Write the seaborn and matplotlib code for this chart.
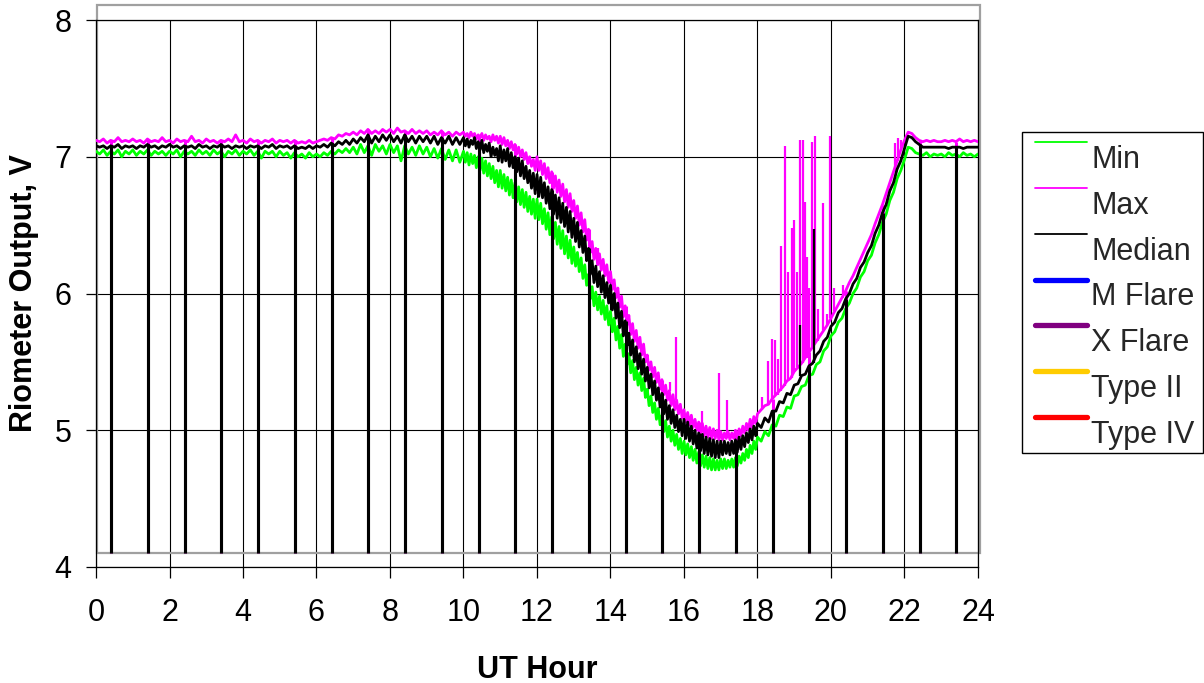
import numpy as np
import pandas as pd
import matplotlib
matplotlib.use("Agg")
import matplotlib.pyplot as plt
import seaborn as sns
from matplotlib.lines import Line2D
from matplotlib.patches import Rectangle
from matplotlib.legend_handler import HandlerLine2D

# ---------------- data ----------------
# sample times (UT hour): 6-min steps, 3-min steps through the noisy 10-18 h stretch
hours = np.concatenate([np.linspace(0, 9.9, 100),
                        np.linspace(10, 17.95, 160),
                        np.linspace(18, 24, 61)])

median_v = [
    7.08, 7.07, 7.08, 7.06, 7.08, 7.07, 7.09, 7.06, 7.08, 7.07,  # 0
    7.08, 7.06, 7.08, 7.07, 7.09, 7.07, 7.08, 7.06, 7.08, 7.07,  # 1
    7.09, 7.07, 7.08, 7.06, 7.08, 7.07, 7.08, 7.06, 7.09, 7.07,  # 2
    7.08, 7.06, 7.08, 7.07, 7.09, 7.07, 7.08, 7.06, 7.08, 7.07,  # 3
    7.08, 7.06, 7.08, 7.07, 7.08, 7.06, 7.08, 7.07, 7.09, 7.06,  # 4
    7.08, 7.07, 7.08, 7.06, 7.08, 7.06, 7.07, 7.06, 7.08, 7.06,  # 5
    7.08, 7.07, 7.09, 7.07, 7.10, 7.08, 7.11, 7.09, 7.12, 7.09,  # 6
    7.13, 7.10, 7.14, 7.11, 7.16, 7.10, 7.15, 7.11, 7.16, 7.12,  # 7
    7.16, 7.11, 7.15, 7.10, 7.16, 7.11, 7.15, 7.10, 7.15, 7.11,  # 8
    7.15, 7.10, 7.15, 7.09, 7.14, 7.10, 7.15, 7.09, 7.14, 7.09,  # 9
    7.14, 7.08, 7.13, 7.07, 7.12, 7.09, 7.14, 7.06, 7.11, 7.05,  # 10.00-10.45
    7.12, 7.03, 7.09, 7.04, 7.10, 7.00, 7.07, 7.01, 7.06, 6.97,  # 10.50-10.95
    7.08, 6.96, 7.05, 6.97, 7.06, 6.93, 7.03, 6.92, 7.00, 6.89,  # 11
    6.99, 6.86, 6.97, 6.84, 6.93, 6.81, 6.90, 6.77, 6.88, 6.73,
    6.87, 6.71, 6.85, 6.70, 6.81, 6.66, 6.78, 6.62, 6.76, 6.58,  # 12
    6.72, 6.55, 6.70, 6.52, 6.66, 6.49, 6.63, 6.45, 6.60, 6.41,
    6.55, 6.38, 6.52, 6.34, 6.46, 6.30, 6.42, 6.24, 6.33, 6.14,  # 13
    6.24, 6.08, 6.20, 6.05, 6.16, 6.01, 6.13, 5.97, 6.08, 5.93,
    6.06, 5.88, 6.00, 5.82, 5.93, 5.75, 5.87, 5.69, 5.80, 5.62,  # 14
    5.71, 5.55, 5.66, 5.50, 5.61, 5.45, 5.56, 5.41, 5.52, 5.36,
    5.46, 5.31, 5.41, 5.26, 5.36, 5.22, 5.31, 5.17, 5.27, 5.12,  # 15
    5.22, 5.08, 5.18, 5.05, 5.15, 5.02, 5.11, 4.99, 5.08, 4.96,
    5.08, 4.94, 5.06, 4.92, 5.03, 4.90, 5.00, 4.87, 4.98, 4.85,  # 16
    4.97, 4.83, 4.95, 4.82, 4.94, 4.81, 4.93, 4.80, 4.92, 4.80,
    4.92, 4.82, 4.92, 4.83, 4.91, 4.82, 4.92, 4.83, 4.93, 4.84,  # 17
    4.95, 4.86, 4.96, 4.88, 4.98, 4.91, 5.01, 4.93, 5.03, 4.96,
    5.05, 5.02, 5.09, 5.06, 5.14, 5.14, 5.21, 5.20, 5.27, 5.26,  # 18
    5.33, 5.34, 5.40, 5.41, 5.47, 5.49, 5.55, 5.58, 5.65, 5.68,  # 19
    5.76, 5.79, 5.86, 5.89, 5.96, 6.00, 6.07, 6.11, 6.19, 6.23,  # 20
    6.30, 6.35, 6.44, 6.50, 6.59, 6.65, 6.75, 6.81, 6.91, 6.97,  # 21
    7.06, 7.15, 7.14, 7.11, 7.09, 7.07, 7.07, 7.07, 7.07, 7.07,  # 22
    7.07, 7.07, 7.06, 7.07, 7.07, 7.07, 7.06, 7.07, 7.07, 7.07,  # 23
    7.07,
]

max_v = [
    7.12, 7.11, 7.13, 7.10, 7.12, 7.11, 7.14, 7.11, 7.12, 7.11,  # 0
    7.13, 7.11, 7.12, 7.10, 7.13, 7.11, 7.12, 7.11, 7.14, 7.11,  # 1
    7.12, 7.10, 7.13, 7.11, 7.12, 7.11, 7.15, 7.11, 7.12, 7.10,  # 2
    7.13, 7.11, 7.12, 7.10, 7.12, 7.11, 7.13, 7.11, 7.16, 7.11,  # 3
    7.12, 7.10, 7.13, 7.11, 7.12, 7.10, 7.12, 7.11, 7.13, 7.10,  # 4
    7.12, 7.11, 7.12, 7.10, 7.12, 7.10, 7.11, 7.10, 7.12, 7.10,  # 5
    7.11, 7.12, 7.13, 7.12, 7.14, 7.13, 7.16, 7.15, 7.17, 7.16,  # 6
    7.18, 7.16, 7.19, 7.17, 7.20, 7.17, 7.19, 7.17, 7.20, 7.18,  # 7
    7.20, 7.17, 7.21, 7.18, 7.19, 7.17, 7.20, 7.17, 7.19, 7.17,  # 8
    7.19, 7.16, 7.18, 7.16, 7.19, 7.16, 7.18, 7.15, 7.18, 7.16,  # 9
    7.18, 7.15, 7.17, 7.14, 7.18, 7.15, 7.17, 7.13, 7.16, 7.14,  # 10
    7.17, 7.12, 7.16, 7.13, 7.15, 7.11, 7.16, 7.12, 7.15, 7.10,
    7.15, 7.09, 7.14, 7.08, 7.12, 7.06, 7.11, 7.05, 7.09, 7.02,  # 11
    7.07, 7.00, 7.05, 6.98, 7.03, 6.95, 7.00, 6.93, 6.98, 6.90,
    7.00, 6.90, 6.97, 6.87, 6.95, 6.84, 6.92, 6.81, 6.89, 6.77,  # 12
    6.86, 6.74, 6.83, 6.71, 6.80, 6.67, 6.76, 6.63, 6.73, 6.60,
    6.68, 6.55, 6.64, 6.50, 6.59, 6.45, 6.54, 6.39, 6.47, 6.30,  # 13
    6.38, 6.25, 6.33, 6.21, 6.29, 6.17, 6.25, 6.13, 6.21, 6.08,
    6.16, 6.03, 6.10, 5.97, 6.04, 5.90, 5.98, 5.83, 5.91, 5.77,  # 14
    5.84, 5.70, 5.78, 5.65, 5.73, 5.60, 5.68, 5.55, 5.63, 5.50,
    5.55, 5.44, 5.50, 5.39, 5.46, 5.35, 5.42, 5.30, 5.37, 5.26,  # 15
    5.33, 5.22, 5.29, 5.18, 5.26, 5.15, 5.22, 5.12, 5.19, 5.09,
    5.15, 5.06, 5.13, 5.04, 5.11, 5.02, 5.08, 5.00, 5.06, 4.98,  # 16
    5.05, 4.96, 5.03, 4.95, 5.02, 4.94, 5.01, 4.94, 5.00, 4.93,
    4.99, 4.93, 4.98, 4.94, 4.99, 4.93, 4.98, 4.94, 5.00, 4.95,  # 17
    5.01, 4.96, 5.03, 4.98, 5.05, 5.00, 5.08, 5.02, 5.10, 5.05,
    5.12, 5.15, 5.18, 5.19, 5.23, 5.26, 5.29, 5.32, 5.36, 5.38,  # 18
    5.43, 5.46, 5.49, 5.53, 5.57, 5.61, 5.65, 5.69, 5.73, 5.77,  # 19
    5.82, 5.87, 5.92, 5.97, 6.02, 6.08, 6.13, 6.19, 6.25, 6.31,  # 20
    6.37, 6.43, 6.51, 6.58, 6.65, 6.73, 6.81, 6.89, 6.97, 7.05,  # 21
    7.12, 7.18, 7.17, 7.14, 7.12, 7.11, 7.12, 7.11, 7.12, 7.11,  # 22
    7.11, 7.12, 7.11, 7.12, 7.11, 7.13, 7.11, 7.12, 7.11, 7.12,  # 23
    7.11,
]

min_v = [
    7.04, 7.02, 7.05, 7.01, 7.04, 7.02, 7.05, 7.00, 7.04, 7.02,  # 0
    7.05, 7.01, 7.04, 7.02, 7.05, 7.01, 7.04, 7.02, 7.04, 7.01,  # 1
    7.04, 7.02, 7.05, 7.00, 7.04, 7.02, 7.04, 7.01, 7.05, 7.02,  # 2
    7.04, 7.01, 7.05, 7.02, 7.04, 7.00, 7.04, 7.02, 7.05, 7.01,  # 3
    7.04, 7.02, 7.05, 7.01, 7.04, 6.99, 7.04, 7.02, 7.04, 7.00,  # 4
    7.04, 7.01, 7.03, 6.99, 7.03, 7.00, 7.02, 6.99, 7.03, 7.00,  # 5
    7.02, 7.00, 7.03, 7.01, 7.04, 7.02, 7.05, 7.03, 7.06, 7.03,  # 6
    7.07, 7.02, 7.09, 7.03, 7.08, 7.01, 7.09, 7.04, 7.08, 7.02,  # 7
    7.09, 7.03, 7.08, 6.97, 7.08, 7.02, 7.07, 7.01, 7.08, 7.02,  # 8
    7.07, 7.00, 7.06, 6.99, 7.06, 6.98, 7.05, 6.97, 7.05, 6.96,  # 9
    7.04, 6.96, 7.03, 6.94, 7.02, 6.95, 7.01, 6.92, 7.00, 6.90,  # 10
    6.99, 6.88, 6.97, 6.86, 6.95, 6.84, 6.93, 6.81, 6.90, 6.78,
    6.90, 6.77, 6.87, 6.75, 6.85, 6.72, 6.83, 6.70, 6.81, 6.67,  # 11
    6.78, 6.65, 6.76, 6.63, 6.74, 6.60, 6.71, 6.58, 6.69, 6.55,
    6.69, 6.54, 6.66, 6.51, 6.62, 6.47, 6.59, 6.43, 6.56, 6.40,  # 12
    6.52, 6.36, 6.49, 6.33, 6.46, 6.29, 6.42, 6.26, 6.39, 6.22,
    6.34, 6.20, 6.30, 6.16, 6.26, 6.11, 6.21, 6.06, 6.14, 5.96,  # 13
    6.05, 5.91, 6.01, 5.88, 5.98, 5.85, 5.95, 5.81, 5.91, 5.77,
    5.87, 5.72, 5.82, 5.66, 5.76, 5.60, 5.70, 5.54, 5.63, 5.48,  # 14
    5.56, 5.42, 5.51, 5.37, 5.46, 5.33, 5.42, 5.29, 5.38, 5.24,
    5.30, 5.18, 5.25, 5.13, 5.20, 5.08, 5.16, 5.04, 5.11, 4.99,  # 15
    5.07, 4.95, 5.03, 4.92, 5.00, 4.89, 4.97, 4.86, 4.94, 4.83,
    4.92, 4.82, 4.90, 4.80, 4.88, 4.78, 4.86, 4.76, 4.84, 4.74,  # 16
    4.82, 4.73, 4.81, 4.72, 4.80, 4.71, 4.79, 4.71, 4.78, 4.71,
    4.79, 4.72, 4.79, 4.72, 4.78, 4.73, 4.79, 4.73, 4.80, 4.74,  # 17
    4.81, 4.76, 4.83, 4.78, 4.86, 4.80, 4.89, 4.83, 4.92, 4.86,
    4.95, 4.92, 4.99, 4.96, 5.04, 5.03, 5.11, 5.10, 5.17, 5.16,  # 18
    5.25, 5.26, 5.32, 5.33, 5.40, 5.41, 5.48, 5.50, 5.58, 5.61,  # 19
    5.69, 5.72, 5.79, 5.82, 5.89, 5.93, 6.00, 6.04, 6.12, 6.16,  # 20
    6.24, 6.28, 6.37, 6.43, 6.52, 6.58, 6.68, 6.74, 6.84, 6.90,  # 21
    6.98, 7.07, 7.06, 7.03, 7.02, 7.01, 7.03, 7.00, 7.02, 7.01,  # 22
    7.02, 7.00, 7.03, 7.01, 7.02, 7.00, 7.03, 7.01, 7.02, 7.00,  # 23
    7.02,
]

# short bursts recorded by the Max (and two by the Median) channel
max_spike_hours = [13.67, 15.62, 15.78, 16.50, 16.95, 17.16,
                   18.13, 18.29, 18.40, 18.48, 18.55, 18.64, 18.75, 18.84,
                   18.93, 19.00, 19.07, 19.17, 19.25, 19.29, 19.34, 19.40,
                   19.47, 19.56, 19.65, 19.79, 19.88, 19.97, 20.09, 20.34,
                   21.75, 21.83, 21.90]
max_spike_values = [6.33, 5.35, 5.68, 5.14, 5.42, 5.22,
                    5.24, 5.51, 5.67, 5.66, 5.52, 6.35, 7.08, 6.16,
                    6.48, 6.54, 6.16, 7.12, 7.12, 6.67, 6.27, 6.04,
                    7.11, 7.15, 5.89, 6.66, 5.85, 7.15, 6.04, 6.06,
                    7.10, 7.14, 7.12]
median_spike_hours = [19.16, 19.55]
median_spike_values = [5.77, 6.47]

# hourly calibration drops
cal_hours = [0.41, 1.41, 2.41, 3.41, 4.41, 5.41, 6.41, 7.41, 8.41, 9.41,
             10.41, 11.41, 12.41, 13.41, 14.41, 15.41, 16.41, 17.41, 18.41,
             19.41, 20.41, 21.41, 22.41, 23.41]
cal_level = 4.1

series_names = ["Min", "Max", "Median", "M Flare", "X Flare", "Type II", "Type IV"]
series_colors = ["#00FF00", "#FF00FF", "#000000", "#0000FF", "#800080", "#FFCC00", "#FF0000"]

x_ticks = [0, 2, 4, 6, 8, 10, 12, 14, 16, 18, 20, 22, 24]
y_ticks = [4, 5, 6, 7, 8]


def at(values, when):
    """value of a sampled series at the nearest sample time"""
    return [values[int(np.abs(hours - h).argmin())] for h in when]


# ---------------- styling ----------------
sns.set_theme(style="white")
plt.rcParams["font.family"] = ["Liberation Sans", "DejaVu Sans"]
FS = 22

fig = plt.figure(figsize=(12.04, 6.83), dpi=100)
ax = fig.add_axes([96 / 1204, 1 - 567 / 683, (978 - 96) / 1204, (567 - 20) / 683])

df = pd.DataFrame({"UT Hour": hours, "Min": min_v, "Max": max_v, "Median": median_v})
long = df.melt(id_vars="UT Hour", var_name="series", value_name="V")

pal = dict(zip(series_names, series_colors))

ax.set_xlim(0, 24)
ax.set_ylim(4, 8)
ax.set_xticks(x_ticks)
ax.set_yticks(y_ticks)
ax.grid(True, color="black", linewidth=0.8)
ax.set_axisbelow(True)

order = ["Min", "Max", "Median"]
for i, name in enumerate(order):
    sub = long[long["series"] == name]
    sns.lineplot(data=sub, x="UT Hour", y="V", color=pal[name], linewidth=2.0,
                 ax=ax, legend=False, estimator=None, zorder=3 + i)
    if name == "Max":
        ax.vlines(max_spike_hours, at(max_v, max_spike_hours), max_spike_values,
                  colors=pal["Max"], linewidth=1.6, zorder=4)
    if name == "Median":
        ax.vlines(median_spike_hours, at(median_v, median_spike_hours), median_spike_values,
                  colors="black", linewidth=1.6, zorder=5)

# calibration drops for each channel
for vals, col, z in [(min_v, pal["Min"], 3.5), (max_v, pal["Max"], 4.5), (median_v, "black", 5.5)]:
    ax.vlines(cal_hours, cal_level, at(vals, cal_hours), colors=col, linewidth=2.2, zorder=z)

# plot-area border (grey, Excel style)
ax.add_patch(Rectangle((0.03, 4.10), 24.02, 4.01, fill=False, edgecolor="#A0A0A0",
                       linewidth=1.6, clip_on=False, zorder=2))

for s in ["left", "bottom", "top", "right"]:
    ax.spines[s].set_visible(True)
    ax.spines[s].set_color("black")
    ax.spines[s].set_linewidth(0.9)

ax.tick_params(axis="x", direction="out", length=8, width=0.9, color="black",
               pad=14, labelsize=FS, bottom=True)
ax.tick_params(axis="y", direction="out", length=7.5, width=0.9, color="black",
               pad=10, labelsize=FS, left=True)
for lab in ax.get_xticklabels() + ax.get_yticklabels():
    lab.set_color("black")

ax.set_xlabel("UT Hour", fontsize=FS, fontweight="bold", labelpad=20, color="black")
ax.set_ylabel("Riometer Output, V", fontsize=FS, fontweight="bold", labelpad=11, color="black")


class RaisedLine(HandlerLine2D):
    def create_artists(self, legend, orig_handle, xdescent, ydescent, width, height, fontsize, trans):
        arts = super().create_artists(legend, orig_handle, xdescent, ydescent,
                                      width, height, fontsize, trans)
        for a in arts:
            a.set_ydata([y + 0.5 * fontsize for y in a.get_ydata()])
        return arts


handles = []
for name, col in zip(series_names, series_colors):
    lw = 1.3 if name in ("Min", "Max", "Median") else 3.8
    handles.append(Line2D([], [], color=col, linewidth=lw, solid_capstyle="round"))

leg = fig.legend(handles, series_names, loc="upper left",
                 bbox_to_anchor=(1022 / 1204, 1 - 132 / 683),
                 bbox_transform=fig.transFigure, borderaxespad=0,
                 frameon=False,
                 fontsize=FS, handlelength=1.7, handletextpad=0.15,
                 labelspacing=0.52, borderpad=0.42,
                 handler_map={Line2D: RaisedLine()})

# legend box
fig.add_artist(Rectangle((1022 / 1204, 1 - 453 / 683), (1203 - 1022) / 1204, (453 - 132) / 683,
                         transform=fig.transFigure, fill=False, edgecolor="black",
                         linewidth=1.0))

fig.savefig("out.png", dpi=100)
